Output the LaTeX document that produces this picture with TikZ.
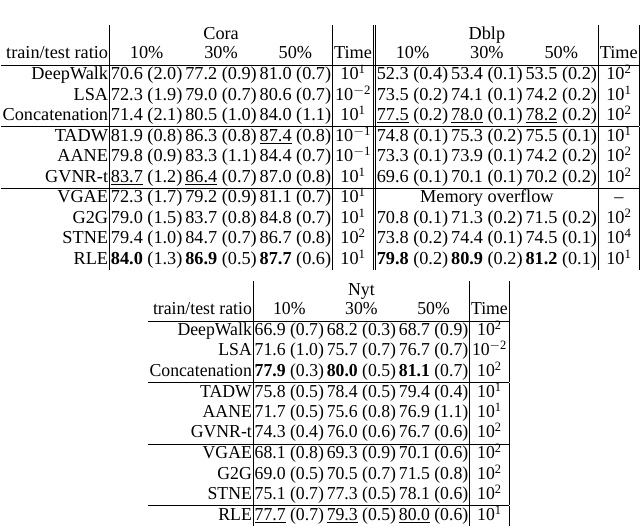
\documentclass[tikz,border=0pt]{standalone}
\usepackage{fontspec}
\setmainfont{Liberation Serif}
\usepackage{graphicx}
\newcommand{\tp}[1]{10\textsuperscript{#1}}
\newcommand{\ul}[1]{\underline{#1}}
\begin{document}
\begin{tikzpicture}
\useasboundingbox (0,0) rectangle (640pt,-531pt);
\tikzset{tbl/.style={inner sep=0pt, anchor=north west}}
\node[tbl] (top) at (1pt,-25pt) {\resizebox{638pt}{239pt}{\fontsize{19pt}{20.6pt}\selectfont\setlength{\tabcolsep}{1.5pt}%
\begin{tabular}[b]{r|ccc|c||ccc|c|}
 & \multicolumn{3}{c|}{Cora} & & \multicolumn{3}{c|}{Dblp} & \\
train/test ratio & 10\% & 30\% & 50\% & Time & 10\% & 30\% & 50\% & Time \\ \hline
DeepWalk & 70.6 (2.0) & 77.2 (0.9) & 81.0 (0.7) & \tp{1} & 52.3 (0.4) & 53.4 (0.1) & 53.5 (0.2) & \tp{2} \\
LSA & 72.3 (1.9) & 79.0 (0.7) & 80.6 (0.7) & \tp{$-$2} & 73.5 (0.2) & 74.1 (0.1) & 74.2 (0.2) & \tp{1} \\
Concatenation & 71.4 (2.1) & 80.5 (1.0) & 84.0 (1.1) & \tp{1} & \ul{77.5} (0.2) & \ul{78.0} (0.1) & \ul{78.2} (0.2) & \tp{2} \\ \hline
TADW & 81.9 (0.8) & 86.3 (0.8) & \ul{87.4} (0.8) & \tp{$-$1} & 74.8 (0.1) & 75.3 (0.2) & 75.5 (0.1) & \tp{1} \\
AANE & 79.8 (0.9) & 83.3 (1.1) & 84.4 (0.7) & \tp{$-$1} & 73.3 (0.1) & 73.9 (0.1) & 74.2 (0.2) & \tp{2} \\
GVNR-t & \ul{83.7} (1.2) & \ul{86.4} (0.7) & 87.0 (0.8) & \tp{1} & 69.6 (0.1) & 70.1 (0.1) & 70.2 (0.2) & \tp{2} \\ \hline
VGAE & 72.3 (1.7) & 79.2 (0.9) & 81.1 (0.7) & \tp{1} & \multicolumn{3}{c|}{Memory overflow} & -- \\
G2G & 79.0 (1.5) & 83.7 (0.8) & 84.8 (0.7) & \tp{1} & 70.8 (0.1) & 71.3 (0.2) & 71.5 (0.2) & \tp{2} \\
STNE & 79.4 (1.0) & 84.7 (0.7) & 86.7 (0.8) & \tp{2} & 73.8 (0.2) & 74.4 (0.1) & 74.5 (0.1) & \tp{4} \\
RLE & \textbf{84.0} (1.3) & \textbf{86.9} (0.5) & \textbf{87.7} (0.6) & \tp{1} & \textbf{79.8} (0.2) & \textbf{80.9} (0.2) & \textbf{81.2} (0.1) & \tp{1} \\
\end{tabular}}};
\node[tbl] (bot) at (148pt,-281pt) {\resizebox{361pt}{239pt}{\fontsize{19pt}{20.6pt}\selectfont\setlength{\tabcolsep}{1.5pt}%
\begin{tabular}[b]{r|ccc|c|}
 & \multicolumn{3}{c|}{Nyt} & \\
train/test ratio & 10\% & 30\% & 50\% & Time \\ \hline
DeepWalk & 66.9 (0.7) & 68.2 (0.3) & 68.7 (0.9) & \tp{2} \\
LSA & 71.6 (1.0) & 75.7 (0.7) & 76.7 (0.7) & \tp{$-$2} \\
Concatenation & \textbf{77.9} (0.3) & \textbf{80.0} (0.5) & \textbf{81.1} (0.7) & \tp{2} \\ \hline
TADW & 75.8 (0.5) & 78.4 (0.5) & 79.4 (0.4) & \tp{1} \\
AANE & 71.7 (0.5) & 75.6 (0.8) & 76.9 (1.1) & \tp{1} \\
GVNR-t & 74.3 (0.4) & 76.0 (0.6) & 76.7 (0.6) & \tp{2} \\ \hline
VGAE & 68.1 (0.8) & 69.3 (0.9) & 70.1 (0.6) & \tp{2} \\
G2G & 69.0 (0.5) & 70.5 (0.7) & 71.5 (0.8) & \tp{2} \\
STNE & 75.1 (0.7) & 77.3 (0.5) & 78.1 (0.6) & \tp{2} \\ \hline
RLE & \ul{77.7} (0.7) & \ul{79.3} (0.5) & \ul{80.0} (0.6) & \tp{1} \\
\end{tabular}}};
\end{tikzpicture}
\end{document}
